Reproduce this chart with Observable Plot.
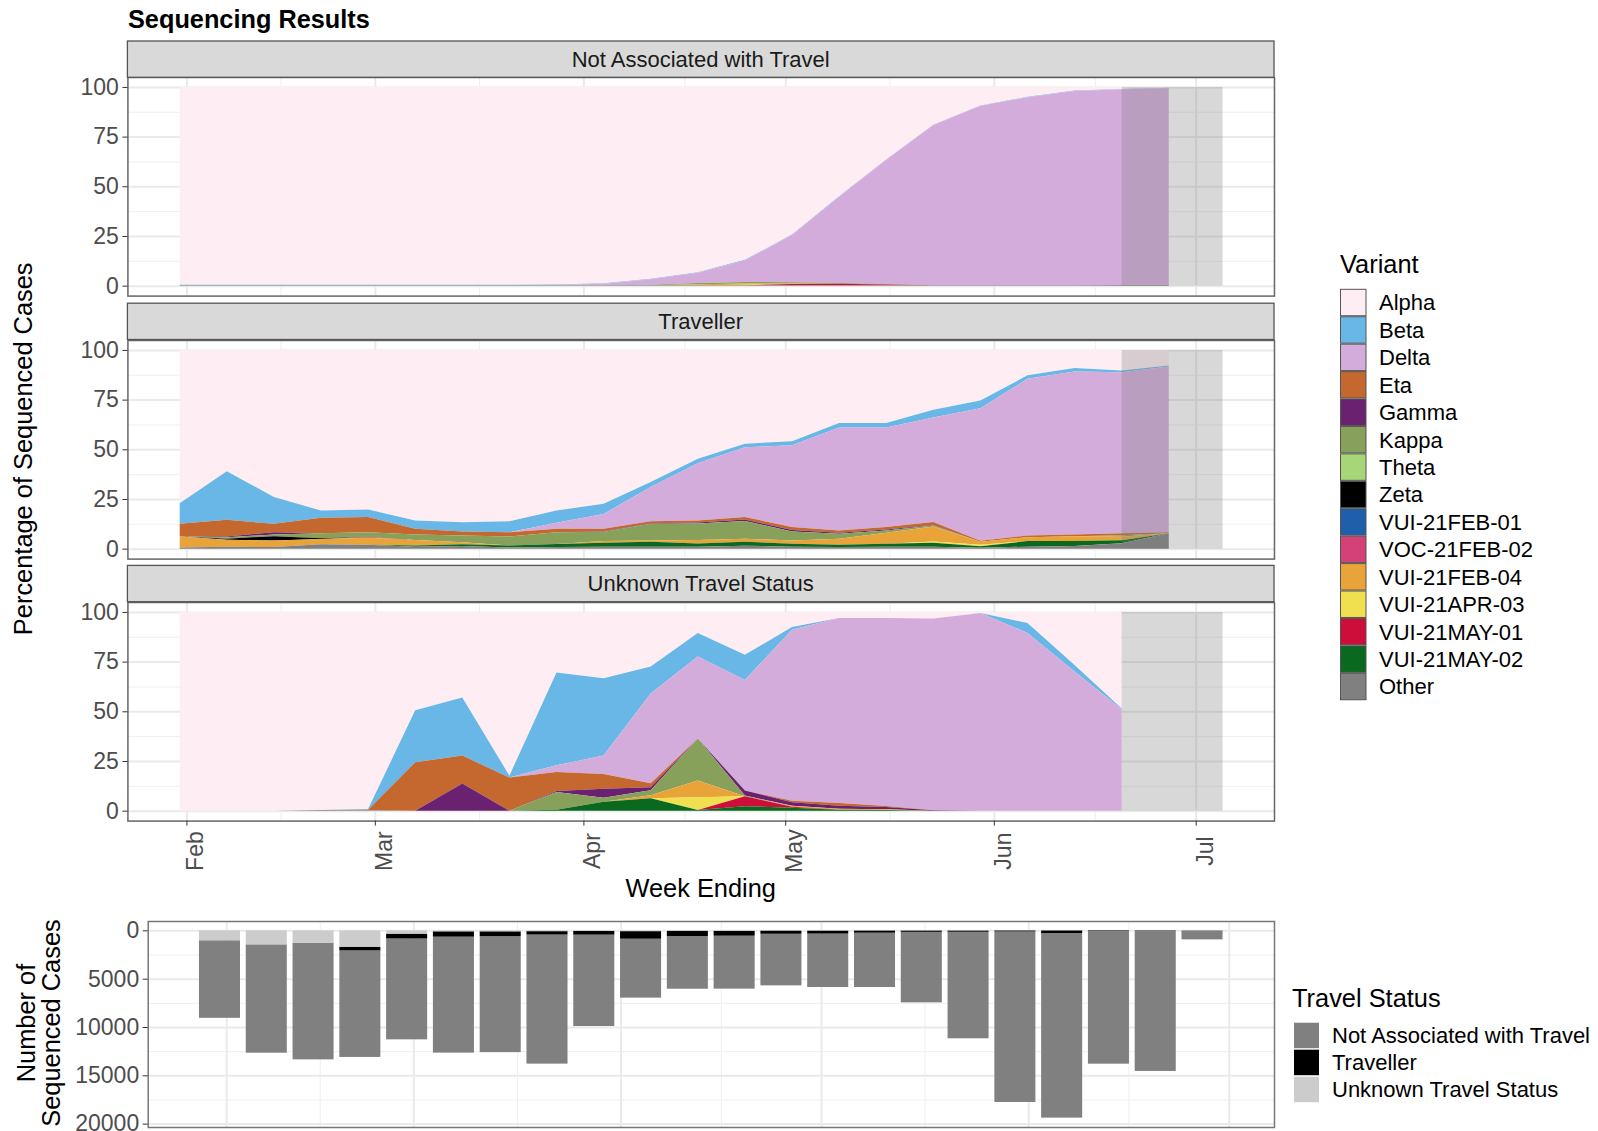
<!DOCTYPE html>
<html>
<head>
<meta charset="utf-8">
<script src="https://cdn.jsdelivr.net/npm/d3@7"></script>
<script src="https://cdn.jsdelivr.net/npm/@observablehq/plot@0.6"></script>
<style>
html,body{margin:0;padding:0;background:#fff;}
#root{position:relative;width:1598px;height:1131px;overflow:hidden;background:#fff;font-family:"Liberation Sans",Arial,sans-serif;}
#root > svg{position:absolute;}
</style>
</head>
<body>
<div id="root"></div>
<script>
// ---------------- DATA ----------------
const weekEnding = ["2021-01-31","2021-02-07","2021-02-14","2021-02-21","2021-02-28","2021-03-07","2021-03-14","2021-03-21","2021-03-28","2021-04-04","2021-04-11","2021-04-18","2021-04-25","2021-05-02","2021-05-09","2021-05-16","2021-05-23","2021-05-30","2021-06-06","2021-06-13","2021-06-20","2021-06-27"];

const variants = ["Alpha","Beta","Delta","Eta","Gamma","Kappa","Theta","Zeta","VUI-21FEB-01","VOC-21FEB-02","VUI-21FEB-04","VUI-21APR-03","VUI-21MAY-01","VUI-21MAY-02","Other"];
const variantColors = ["#FEEEF3","#68B7E6","#D4ACDB","#C46830","#6A2270","#87A05A","#A6D678","#000000","#1F5EAA","#D44178","#E8A438","#F0E050","#CE0E3A","#0A691E","#808080"];

const panelNames = ["Not Associated with Travel","Traveller","Unknown Travel Status"];

// Not Associated with Travel (% of sequenced cases)
const notAssocAlpha = [99.5,99.5,99.5,99.5,99.5,99.5,99.5,99.5,99.4,98.8,96.5,93.2,87.0,74.3,55.0,36.5,19.0,9.3,5.0,1.8,1.0,0.4];
const notAssocBeta  = [0.3,0.3,0.3,0.3,0.3,0.3,0.3,0.3,0.3,0.3,0.3,0.3,0.3,0.2,0.2,0.2,0.2,0.2,0.2,0.2,0.2,0.2];
const notAssocDelta = [0,0,0,0,0,0,0,0,0.1,0.7,2.7,5.2,10.8,23.8,43.4,62.5,80.6,90.3,94.6,97.8,98.5,99.1];
const notAssocKappa = [0,0,0,0,0,0,0,0,0,0,0.3,0.6,0.8,0.6,0.4,0.2,0,0,0,0,0,0];
const notAssocFeb04 = [0,0,0,0,0,0,0,0,0,0,0,0.5,0.6,0.3,0,0,0,0,0,0,0,0];
const notAssocApr03 = [0,0,0,0,0,0,0,0,0,0,0,0,0.3,0,0,0,0,0,0,0,0,0];
const notAssocMay01 = [0,0,0,0,0,0,0,0,0,0,0,0,0,0.6,0.8,0.4,0,0,0,0,0,0];
const notAssocOther = [0.2,0.2,0.2,0.2,0.2,0.2,0.2,0.2,0.2,0.2,0.2,0.2,0.2,0.2,0.2,0.2,0.2,0.2,0.2,0.2,0.3,0.3];

// Traveller
const travellerAlpha = [77.1,61.0,74.0,80.8,80.3,85.8,86.7,86.2,80.8,77.4,66.5,54.8,47.2,45.9,36.8,36.8,30.1,25.4,12.8,9.1,10.3,7.8];
const travellerBeta  = [10.4,24.5,13.5,3.7,3.8,4.2,4.7,5.5,6.2,5.1,2.5,2.2,1.8,2.1,2.2,2.2,3.9,4.0,1.7,1.7,0.9,0.5];
const travellerDelta = [0,0,0,0,0,0,0,0,3.0,7.5,17.2,28.8,35.1,41.1,51.8,50.1,52.6,66.6,78.9,82.1,81.0,83.4];
const travellerEta   = [6.4,8.4,4.2,7.7,7.6,2.9,2.0,2.2,1.7,1.2,1.0,1.0,1.2,1.5,1.2,1.2,1.5,0.5,0.8,0.8,1.0,0.5];
const travellerGamma = [0,0.3,1.2,0,0,0,0,0,0,0.3,0.3,0.5,0.8,0.8,0.5,0.5,0.3,0,0,0,0,0];
const travellerKappa = [0,0.8,0.8,2.5,2.4,2.8,3.4,4.5,5.9,4.7,8.4,8.4,8.9,4.5,2.5,1.2,0.5,0,0,0,0.8,0];
const travellerZeta  = [0,0.5,2.2,0.5,0,0,0,0,0,0,0,0,0,0,0,0,0,0,0,0,0,0];
const travellerFeb02 = [0,0,0,0,0.4,0,0,0,0,0,0,0,0,0,0,0,0,0,0,0,0,0];
const travellerFeb04 = [5.5,3.5,3.3,2.6,3.5,2.7,1.0,0,0,0.8,0.6,1.7,1.5,1.6,3.0,5.5,7.5,1.5,2.0,2.5,1.8,0];
const travellerApr03 = [0,0,0,0,0,0,0,0,0,0,0,0,0,0,0,0,0.6,0.8,0,0,0,0];
const travellerMay02 = [0,0,0,0,0,0.6,0.8,1.0,1.6,2.0,2.5,1.7,2.0,1.5,1.2,1.5,2.0,0.7,2.8,2.5,1.5,0];
const travellerOther = [0.6,1.0,0.8,2.2,2.0,1.0,1.4,0.6,0.8,1.0,1.0,0.9,1.5,1.0,0.8,1.0,1.0,0.5,1.0,1.3,2.7,7.8];

// Unknown Travel Status (no data for the last week)
const unknownAlpha = [100,100,100,99.7,99.2,49.5,43.0,82.4,30.5,33.4,27.5,10.6,21.6,7.6,3.0,3.0,3.3,0.5,5.6,26.7,48.6];
const unknownBeta  = [0,0,0,0,0.3,26.2,29.3,0.9,46.7,38.8,13.5,11.8,12.6,1.4,0,0,0,0,5.0,3.3,0.4];
const unknownDelta = [0,0,0,0,0,0,0,0,3.4,9.3,45.2,41.3,55.7,86.0,93.2,94.6,96.5,99.5,89.4,70.0,51.0];
const unknownEta   = [0,0,0,0,0.3,24.3,14.0,16.7,9.5,7.5,2.0,0,0,0.8,1.3,0.5,0,0,0,0,0];
const unknownGamma = [0,0,0,0,0,0,13.7,0,0.5,4.5,1.5,0,2.5,1.7,1.5,1.2,0.2,0,0,0,0];
const unknownKappa = [0,0,0,0,0,0,0,0,9.0,2.0,2.5,21.1,0.4,0,0,0,0,0,0,0,0];
const unknownFeb04 = [0,0,0,0,0,0,0,0,0,0,1.5,8.5,0,0.5,0.5,0.4,0,0,0,0,0];
const unknownApr03 = [0,0,0,0,0,0,0,0,0,0,0,6.4,0,0,0,0,0,0,0,0,0];
const unknownMay01 = [0,0,0,0,0,0,0,0,0,0,0,0,5.0,0.5,0,0,0,0,0,0,0];
const unknownMay02 = [0,0,0,0,0,0,0,0,0.4,4.5,6.3,0.3,2.2,1.5,0.5,0.3,0,0,0,0,0];
const unknownOther = [0,0,0,0.3,0.2,0,0,0,0,0,0,0,0,0,0,0,0,0,0,0,0];

// Number of sequenced cases by travel status
const travelStatuses = ["Not Associated with Travel","Traveller","Unknown Travel Status"];
const travelColors = ["#808080","#000000","#CCCCCC"];
const notAssocCount  = [8000,11200,12060,11030,10440,12000,12000,13360,9460,6100,5450,5480,5340,5530,5620,7300,11030,17650,19110,13730,14510,930];
const travellerCount = [20,10,10,380,500,550,500,350,380,780,540,500,320,300,220,130,120,100,260,60,40,0];
const unknownCount   = [1030,1450,1280,1690,340,100,100,80,60,80,50,50,30,30,20,20,20,10,10,5,0,0];

// Ticks and annotation period
const monthTicks = ["2021-02-01","2021-03-01","2021-04-01","2021-05-01","2021-06-01","2021-07-01"];
const minorDateTicks = ["2021-02-15","2021-03-16T12:00:00Z","2021-04-16","2021-05-16T12:00:00Z","2021-06-16"];
const pctTicks = [0,25,50,75,100];
const pctMinorTicks = [12.5,37.5,62.5,87.5];
const countTicks = [0,5000,10000,15000,20000];
const countMinorTicks = [2500,7500,12500,17500];
const shadeStart = ["2021-06-20"];
const shadeEnd = ["2021-07-05"];

// ---------------- BUILD TABLES ----------------
const toDate = s => new Date(s.length === 10 ? s + "T00:00:00Z" : s);
const DAY = 864e5;

const panelSeries = [
  {Alpha: notAssocAlpha, Beta: notAssocBeta, Delta: notAssocDelta, Kappa: notAssocKappa, "VUI-21FEB-04": notAssocFeb04, "VUI-21APR-03": notAssocApr03, "VUI-21MAY-01": notAssocMay01, Other: notAssocOther},
  {Alpha: travellerAlpha, Beta: travellerBeta, Delta: travellerDelta, Eta: travellerEta, Gamma: travellerGamma, Kappa: travellerKappa, Zeta: travellerZeta, "VOC-21FEB-02": travellerFeb02, "VUI-21FEB-04": travellerFeb04, "VUI-21APR-03": travellerApr03, "VUI-21MAY-02": travellerMay02, Other: travellerOther},
  {Alpha: unknownAlpha, Beta: unknownBeta, Delta: unknownDelta, Eta: unknownEta, Gamma: unknownGamma, Kappa: unknownKappa, "VUI-21FEB-04": unknownFeb04, "VUI-21APR-03": unknownApr03, "VUI-21MAY-01": unknownMay01, "VUI-21MAY-02": unknownMay02, Other: unknownOther}
];

function panelRows(series) {
  const rows = [];
  const n = series.Alpha.length;
  for (let i = 0; i < n; i++) {
    for (const v of variants) {
      rows.push({date: toDate(weekEnding[i]), variant: v, value: series[v] ? series[v][i] : 0});
    }
  }
  return rows;
}

const countSeries = [notAssocCount, travellerCount, unknownCount];
const halfBar = 3.07 * DAY;
const countRows = [];
weekEnding.forEach((w, i) => {
  const d = toDate(w);
  travelStatuses.forEach((s, k) => {
    countRows.push({date: d, start: new Date(+d - halfBar), end: new Date(+d + halfBar), status: s, count: countSeries[k][i]});
  });
});

const shadeRows = shadeStart.map((s, i) => ({start: toDate(s), end: toDate(shadeEnd[i])}));
const monthDates = monthTicks.map(toDate);
const minorDates = minorDateTicks.map(toDate);
const stackOrder = variants.slice().reverse();
const travelStackOrder = travelStatuses.slice().reverse();

// ---------------- LAYOUT ----------------
const FONT = '"Liberation Sans", Arial, sans-serif';
const root = document.getElementById("root");
const W = 1300, L = 127.4, R = 1274;
const panelTops = [77.3, 339.5, 601.7];
const panelH = 218.6, stripH = 36.3;
const topXDomain = [new Date(Date.UTC(2021,0,23,5,30)), new Date(Date.UTC(2021,6,12,15,20))];
const botXDomain = [new Date(Date.UTC(2021,0,20,6,14)), new Date(Date.UTC(2021,6,7,18,29))];

const gridMarks = (xMajor, xMinor, yMajor, yMinor) => [
  Plot.gridX(xMinor, {stroke: "#EFEFEF", strokeOpacity: 1, strokeWidth: 1}),
  Plot.gridY(yMinor, {stroke: "#EFEFEF", strokeOpacity: 1, strokeWidth: 1}),
  Plot.gridX(xMajor, {stroke: "#EAEAEA", strokeOpacity: 1, strokeWidth: 2}),
  Plot.gridY(yMajor, {stroke: "#EAEAEA", strokeOpacity: 1, strokeWidth: 2})
];

panelSeries.forEach((series, p) => {
  const isLast = p === panelSeries.length - 1;
  const mt = 20, mb = isLast ? 70 : 6;
  const svg = Plot.plot({
    width: W, height: mt + panelH + mb,
    marginLeft: L, marginRight: W - R, marginTop: mt, marginBottom: mb,
    style: {fontFamily: FONT, fontSize: "23px", color: "#4D4D4D", background: "transparent", overflow: "visible"},
    x: {type: "utc", domain: topXDomain, axis: null},
    y: {domain: [-5, 105], axis: null},
    color: {domain: variants, range: variantColors},
    marks: [
      ...gridMarks(monthDates, minorDates, pctTicks, pctMinorTicks),
      Plot.areaY(panelRows(series), {x: "date", y: "value", z: "variant", fill: "variant", order: stackOrder}),
      Plot.rect(shadeRows, {x1: "start", x2: "end", y1: 0, y2: 100, fill: "#7F7F7F", fillOpacity: 0.3}),
      Plot.frame({stroke: "#666", strokeWidth: 1.5}),
      Plot.axisY({ticks: pctTicks, tickSize: 5, tickPadding: 4, label: null, stroke: "#333", fill: "#4D4D4D"}),
      ...(isLast ? [Plot.axisX({ticks: monthDates, tickFormat: "%b", tickSize: 5, tickPadding: 25, tickRotate: -90, textAnchor: "middle", lineAnchor: "top", label: null, stroke: "#333", fill: "#4D4D4D"})] : [])
    ]
  });
  svg.style.left = "0px";
  svg.style.top = (panelTops[p] - mt) + "px";
  root.appendChild(svg);
});

// bottom bar chart
{
  const mt = 15, mb = 10, bTop = 920.7, bBottom = 1126.7;
  const svg = Plot.plot({
    width: W, height: mt + (bBottom - bTop) + mb,
    marginLeft: 147.7, marginRight: W - R, marginTop: mt, marginBottom: mb,
    style: {fontFamily: FONT, fontSize: "23px", color: "#4D4D4D", background: "transparent", overflow: "visible"},
    x: {type: "utc", domain: botXDomain, axis: null},
    y: {domain: [-970, 20350], reverse: true, axis: null},
    color: {domain: travelStatuses, range: travelColors},
    marks: [
      ...gridMarks(monthDates, minorDates, countTicks, countMinorTicks),
      Plot.rectY(countRows, {x1: "start", x2: "end", y: "count", fill: "status", order: travelStackOrder}),
      Plot.frame({stroke: "#777", strokeWidth: 1.5}),
      Plot.axisY({ticks: countTicks, tickFormat: d3.format("d"), tickSize: 5, tickPadding: 4, label: null, stroke: "#333", fill: "#4D4D4D"})
    ]
  });
  svg.style.left = "0px";
  svg.style.top = (bTop - mt) + "px";
  root.appendChild(svg);
}

// ---------------- TEXT, STRIPS, LEGENDS ----------------
const ov = d3.select(root).append("svg")
  .attr("width", 1598).attr("height", 1131)
  .style("left", "0px").style("top", "0px")
  .style("font-family", FONT);

ov.append("text").attr("x", 128).attr("y", 27.5)
  .attr("font-size", 25.3).attr("font-weight", "bold").attr("fill", "#000")
  .text("Sequencing Results");

panelNames.forEach((name, p) => {
  const y0 = panelTops[p] - stripH;
  ov.append("rect").attr("x", L).attr("y", y0).attr("width", R - L).attr("height", stripH)
    .attr("fill", "#D9D9D9").attr("stroke", "#555").attr("stroke-width", 1.3);
  ov.append("text").attr("x", (L + R) / 2).attr("y", y0 + stripH / 2 + 0.36 * 22)
    .attr("text-anchor", "middle").attr("font-size", 22).attr("fill", "#1A1A1A").text(name);
});

// axis titles
ov.append("text").attr("transform", `translate(32,${(panelTops[0] + panelTops[2] + panelH) / 2}) rotate(-90)`)
  .attr("text-anchor", "middle").attr("font-size", 25.4).attr("fill", "#000").text("Percentage of Sequenced Cases");
ov.append("text").attr("x", (L + R) / 2).attr("y", 897)
  .attr("text-anchor", "middle").attr("font-size", 25.4).attr("fill", "#000").text("Week Ending");
ov.append("text").attr("transform", `translate(35,1023) rotate(-90)`)
  .attr("text-anchor", "middle").attr("font-size", 25.4).attr("fill", "#000").text("Number of");
ov.append("text").attr("transform", `translate(60,1023) rotate(-90)`)
  .attr("text-anchor", "middle").attr("font-size", 25.4).attr("fill", "#000").text("Sequenced Cases");

// Variant legend
ov.append("text").attr("x", 1340).attr("y", 273).attr("font-size", 25.4).attr("fill", "#000").text("Variant");
const keyPitch = 27.43, keyTop = 288.8;
variants.forEach((v, i) => {
  const y = keyTop + i * keyPitch;
  ov.append("rect").attr("x", 1340.5).attr("y", y + 0.5).attr("width", 25.5).attr("height", keyPitch - 1)
    .attr("fill", variantColors[i]).attr("stroke", "#555").attr("stroke-width", 1);
  ov.append("text").attr("x", 1379).attr("y", y + keyPitch / 2 + 0.36 * 22)
    .attr("font-size", 22).attr("fill", "#000").text(v);
});

// Travel Status legend
ov.append("text").attr("x", 1292).attr("y", 1006.5).attr("font-size", 25.4).attr("fill", "#000").text("Travel Status");
const tKeyTop = 1022.7, tPitch = 27;
travelStatuses.forEach((s, i) => {
  const y = tKeyTop + i * tPitch;
  ov.append("rect").attr("x", 1294).attr("y", y).attr("width", 25).attr("height", tPitch - 1.5)
    .attr("fill", travelColors[i]);
  ov.append("text").attr("x", 1332).attr("y", y + (tPitch - 1.5) / 2 + 0.36 * 22)
    .attr("font-size", 22).attr("fill", "#000").text(s);
});
</script>
</body>
</html>
